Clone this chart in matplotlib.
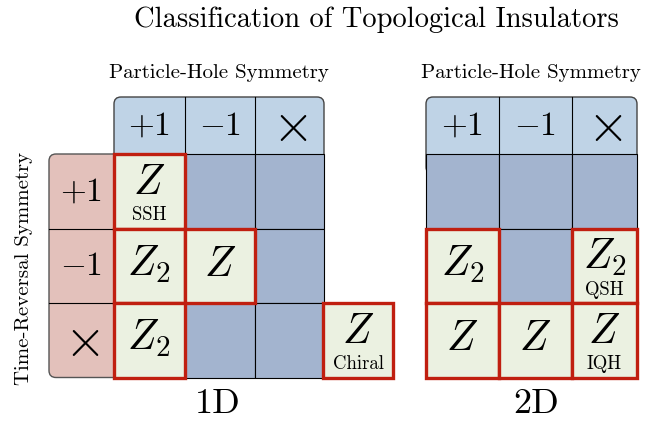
import matplotlib.pyplot as plt
from matplotlib.patches import Rectangle, FancyBboxPatch

plt.rcParams['mathtext.fontset'] = 'cm'
plt.rcParams['font.family'] = 'cmr10'
plt.rcParams['axes.formatter.use_mathtext'] = True

# data
phs_labels = [r'$+1$', r'$-1$', r'$\times$']
trs_labels = [r'$+1$', r'$-1$', r'$\times$']
classes_1d = [['Z', '', ''],
              ['Z_2', 'Z', ''],
              ['Z_2', '', '']]
notes_1d = [['SSH', '', ''],
            ['', '', ''],
            ['', '', '']]
chiral_class = 'Z'
chiral_note = 'Chiral'
classes_2d = [['', '', ''],
              ['Z_2', '', 'Z_2'],
              ['Z', 'Z', 'Z']]
notes_2d = [['', '', ''],
            ['', '', 'QSH'],
            ['', '', 'IQH']]

# layout (pixels)
rows_y = [97, 154, 228.5, 303, 377.5]
cols_1d = [114, 184.5, 255, 324]
cols_2d = [426, 499, 572, 637]
trs_x = [49, 114]
chiral_x = [323, 393]

hdr_c = '#bfd3e6'
empty_c = '#a3b4cf'
trs_c = '#e3c1bb'
green_c = '#ebf1e1'
red_c = '#c01f10'

fig = plt.figure(figsize=(6.63, 4.21), dpi=100)
ax = fig.add_axes([0, 0, 1, 1])
ax.set_xlim(0, 663)
ax.set_ylim(421, 0)
ax.axis('off')


def sym_text(ax, xc, yc, lab):
    if 'times' in lab:
        ax.text(xc, yc + 2, lab, ha='center', va='center', fontsize=38, zorder=3)
    else:
        ax.text(xc, yc + 1, lab, ha='center', va='center', fontsize=24, zorder=3)


def cell_text(ax, xc, yc, cls, note):
    if not cls:
        return
    if note:
        ax.text(xc, yc + 3, '$' + cls + '$', ha='center', va='baseline', fontsize=30, zorder=6)
        ax.text(xc, yc + 29, note, ha='center', va='baseline', fontsize=13.5, zorder=6)
    else:
        ax.text(xc, yc + 10, '$' + cls + '$', ha='center', va='baseline', fontsize=30, zorder=6)


def draw_panel(ax, cols, classes, notes):
    # header band
    x0, x1 = cols[0], cols[-1]
    ax.add_patch(FancyBboxPatch((x0, rows_y[0]), x1 - x0, rows_y[1] - rows_y[0] + 20,
                                boxstyle='round,pad=0,rounding_size=7',
                                fc=hdr_c, ec='#444444', lw=1.0, zorder=1))
    for j, lab in enumerate(phs_labels):
        if j > 0:
            ax.plot([cols[j], cols[j]], [rows_y[0], rows_y[1]], color='black', lw=0.8, zorder=2)
        sym_text(ax, (cols[j] + cols[j + 1]) / 2, (rows_y[0] + rows_y[1]) / 2, lab)
    reds = []
    for i in range(3):
        for j in range(3):
            w = cols[j + 1] - cols[j]
            h = rows_y[i + 2] - rows_y[i + 1]
            if classes[i][j]:
                reds.append((cols[j], rows_y[i + 1], w, h, classes[i][j], notes[i][j]))
            else:
                ax.add_patch(Rectangle((cols[j], rows_y[i + 1]), w, h, fc=empty_c,
                                       ec='black', lw=0.8, zorder=2))
    for x, y, w, h, cls, note in reds:
        ax.add_patch(Rectangle((x, y), w, h, fc=green_c, ec=red_c, lw=2.4, zorder=4))
        cell_text(ax, x + w / 2, y + h / 2, cls, note)


# time-reversal column (1D only)
ax.add_patch(FancyBboxPatch((trs_x[0], rows_y[1]), trs_x[1] - trs_x[0] + 20, rows_y[4] - rows_y[1],
                            boxstyle='round,pad=0,rounding_size=7',
                            fc=trs_c, ec='#555555', lw=1.0, zorder=1))
for i, lab in enumerate(trs_labels):
    if i > 0:
        ax.plot(trs_x, [rows_y[i + 1], rows_y[i + 1]], color='black', lw=0.8, zorder=2)
    sym_text(ax, (trs_x[0] + trs_x[1]) / 2, (rows_y[i + 1] + rows_y[i + 2]) / 2, lab)

draw_panel(ax, cols_1d, classes_1d, notes_1d)
draw_panel(ax, cols_2d, classes_2d, notes_2d)

# chiral extra cell
cy0, cy1 = rows_y[3], rows_y[4]
ax.add_patch(Rectangle((chiral_x[0], cy0), chiral_x[1] - chiral_x[0], cy1 - cy0,
                       fc=green_c, ec=red_c, lw=2.4, zorder=4))
cell_text(ax, sum(chiral_x) / 2, (cy0 + cy1) / 2, chiral_class, chiral_note)

# labels
ax.text(376, 20, 'Classification of Topological Insulators', ha='center', va='center', fontsize=20.5)
ax.text(219, 73, 'Particle-Hole Symmetry', ha='center', va='center', fontsize=15)
ax.text(531, 73, 'Particle-Hole Symmetry', ha='center', va='center', fontsize=15)
ax.text(24, 268, 'Time-Reversal Symmetry', ha='center', va='center', fontsize=15, rotation=90)
ax.text(218, 404, '1D', ha='center', va='center', fontsize=26)
ax.text(536, 404, '2D', ha='center', va='center', fontsize=26)

fig.savefig('out.png', dpi=100)
